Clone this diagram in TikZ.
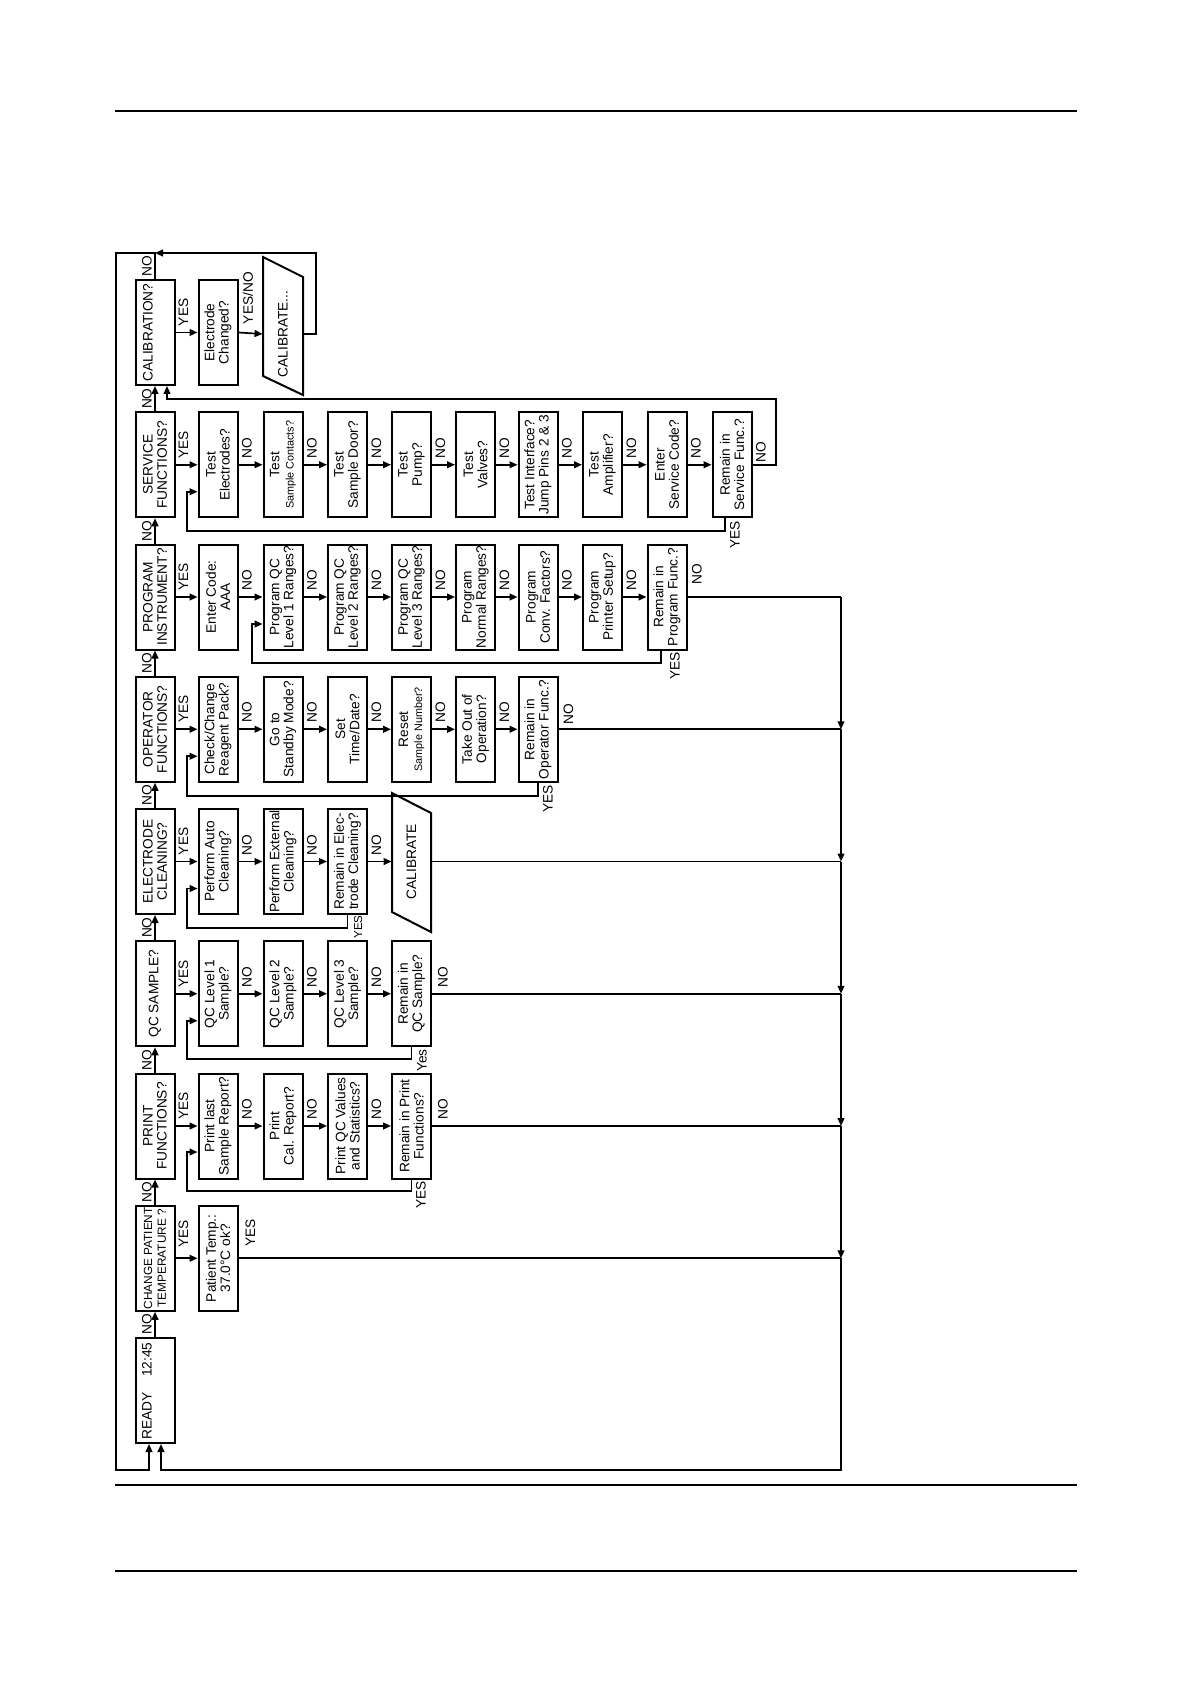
\documentclass[tikz,border=0pt]{standalone}
\usepackage{fontspec}
\setmainfont{Liberation Sans}
\usetikzlibrary{arrows.meta,calc}
\newcommand\nfs{\fontsize{6.85}{7.1}\selectfont}
\newcommand\sfsm{\fontsize{5.4}{7.1}\selectfont}
\newcommand\hfsm{\fontsize{5.9}{6.9}\selectfont}
\newcommand\yfsm{\fontsize{5.8}{6.5}\selectfont}
\begin{document}
\begin{tikzpicture}[x=0.5pt,y=-0.5pt,
  box/.style={draw,line width=1pt,rotate=90,minimum width=52.5pt,minimum height=19.5pt,inner sep=0pt,align=center,font=\nfs},
  lab/.style={rotate=90,inner sep=0pt,font=\nfs},
  conn/.style={line width=0.85pt},
  arr/.style={conn,-{Triangle[length=4pt,width=3.4pt]}},
  pagerule/.style={line width=0.6pt}]
\useasboundingbox (0,0) rectangle (1190,1684);
\fill[white] (0,0) rectangle (1190,1684);
% page rules
\draw[pagerule] (115,111) -- (1077,111);
\draw[pagerule] (115,1485) -- (1077,1485);
\draw[pagerule] (115,1571) -- (1077,1571);
% frame coordinates
\coordinate (jtop) at (155,253);
\coordinate (oTL) at (116,253);
\coordinate (oBL) at (116,1470);
\coordinate (mTR) at (841,597);
\coordinate (j3) at (841,729.25);
\coordinate (j4) at (841,861.5);
\coordinate (j5) at (841,993.75);
\coordinate (j6) at (841,1126);
\coordinate (j7) at (841,1258.25);
\coordinate (mBR) at (841,1470);
% header column
\node[box] (h0) at (155,332.5) {CALIBRATION?\\\mbox{}};
\node[box] (h1) at (155,464.75) {SERVICE\\FUNCTIONS?};
\node[box] (h2) at (155,597) {PROGRAM\\INSTRUMENT?};
\node[box] (h3) at (155,729.25) {OPERATOR\\FUNCTIONS?};
\node[box] (h4) at (155,861.5) {ELECTRODE\\CLEANING?};
\node[box] (h5) at (155,993.75) {QC SAMPLE?};
\node[box] (h6) at (155,1126) {PRINT\\FUNCTIONS?};
\node[box,font=\hfsm] (h7) at (155,1258.25) {CHANGE PATIENT\\TEMPERATURE ?};
\node[box] (h8) at (155,1390.5) {};
\node[lab,anchor=west] (rdy) at (147,1440) {READY};
\node[lab,anchor=east] (rtm) at (147,1342) {12:45};
% calibration row
\node[box] (a1) at (218,332.5) {Electrode\\Changed?};
\node[lab,minimum height=20pt,minimum width=40pt] (a2) at (283,334) {CALIBRATE...};
\draw[line width=1pt] ($(a2.center)+(-20,-77)$) -- ($(a2.center)+(-20,42)$) -- ($(a2.center)+(20,61)$) -- ($(a2.center)+(20,-57)$) -- cycle;
% service row
\node[box] (s1) at (218,464.75) {Test\\Electrodes?};
\node[box] (s2) at (283,464.75) {Test\\{\sfsm Sample Contacts?}};
\node[box] (s3) at (347.5,464.75) {Test\\Sample Door?};
\node[box] (s4) at (411.5,464.75) {Test\\Pump?};
\node[box] (s5) at (475.5,464.75) {Test\\Valves?};
\node[box] (s6) at (538,464.75) {Test Interface?\\Jump Pins 2 \& 3};
\node[box] (s7) at (602.5,464.75) {Test\\Amplifier?};
\node[box] (s8) at (667,464.75) {Enter\\Service Code?};
\node[box] (s9) at (732,464.75) {Remain in\\Service Func.?};
% program row
\node[box] (p1) at (218,597) {Enter Code:\\AAA};
\node[box] (p2) at (283,597) {Program QC\\Level 1 Ranges?};
\node[box] (p3) at (347.5,597) {Program QC\\Level 2 Ranges?};
\node[box] (p4) at (411.5,597) {Program QC\\Level 3 Ranges?};
\node[box] (p5) at (475.5,597) {Program\\Normal Ranges?};
\node[box] (p6) at (538,597) {Program\\Conv. Factors?};
\node[box] (p7) at (602.5,597) {Program\\Printer Setup?};
\node[box] (p8) at (667,597) {Remain in\\Program Func.?};
% operator row
\node[box] (o1) at (218,729.25) {Check/Change\\Reagent Pack?};
\node[box] (o2) at (283,729.25) {Go to\\Standby Mode?};
\node[box] (o3) at (347.5,729.25) {Set\\Time/Date?};
\node[box] (o4) at (411.5,729.25) {Reset\\{\sfsm Sample Number?}};
\node[box] (o5) at (475.5,729.25) {Take Out of\\Operation?};
\node[box] (o6) at (538,729.25) {Remain in\\Operator Func.?};
% electrode row
\node[box] (e1) at (218,861.5) {Perform Auto\\Cleaning?};
\node[box] (e2) at (283,861.5) {Perform External\\Cleaning?};
\node[box] (e3) at (347.5,861.5) {Remain in Elec-\\trode Cleaning?};
\node[lab,minimum height=19.5pt,minimum width=40pt] (eC) at (411.5,861.5) {CALIBRATE};
\draw[line width=1pt] ($(eC.center)+(-19.5,-68.5)$) -- ($(eC.center)+(-19.5,50.5)$) -- ($(eC.center)+(19.5,70.5)$) -- ($(eC.center)+(19.5,-48.5)$) -- cycle;
% QC row
\node[box] (q1) at (218,993.75) {QC Level 1\\Sample?};
\node[box] (q2) at (283,993.75) {QC Level 2\\Sample?};
\node[box] (q3) at (347.5,993.75) {QC Level 3\\Sample?};
\node[box] (q4) at (411.5,993.75) {Remain in\\QC Sample?};
% print row
\node[box] (r1) at (218,1126) {Print last\\Sample Report?};
\node[box] (r2) at (283,1126) {Print\\Cal. Report?};
\node[box] (r3) at (347.5,1126) {Print QC Values\\and Statistics?};
\node[box] (r4) at (411.5,1126) {Remain in Print\\Functions?};
% patient row
\node[box] (t1) at (218,1258.25) {Patient Temp.:\\37.0°C ok?};
% header chain
\foreach \a/\b in {h8/h7,h7/h6,h6/h5,h5/h4,h4/h3,h3/h2,h2/h1,h1/h0}{
  \draw[arr] (\a.east) -- (\b.west);
  \node[lab] at ($(\a.east)!0.5!(\b.west)+(-8,0)$) {NO};
}
\node[lab] at ($(h0.east)!0.5!(jtop)+(-8,0)$) {NO};
% row chains
\foreach \a/\b in {h0/a1,h1/s1,h2/p1,h3/o1,h4/e1,h5/q1,h6/r1}{
  \draw[arr] (\a.south) -- (\b.north);
  \node[lab,anchor=west] at ($(\a.south)+(8,-6)$) {YES};
}
\draw[arr] (h7.south) -- (t1.north);
\node[lab,anchor=west] at ($(h7.south)+(8,-10)$) {YES};
\draw[arr] (a1.south) -- (a2.north);
\node[lab,anchor=west] at ($(a1.south)+(9.5,-8)$) {YES/NO};
\foreach \a/\b in {s1/s2,s2/s3,s3/s4,s4/s5,s5/s6,s6/s7,s7/s8,s8/s9,
  p1/p2,p2/p3,p3/p4,p4/p5,p5/p6,p6/p7,p7/p8,
  o1/o2,o2/o3,o3/o4,o4/o5,o5/o6,
  e1/e2,e2/e3,e3/eC,
  q1/q2,q2/q3,q3/q4,
  r1/r2,r2/r3,r3/r4}{
  \draw[arr] (\a.south) -- (\b.north);
  \node[lab,anchor=west] at ($(\a.south)+(8.5,-6)$) {NO};
}
% YES loops
\draw[arr] ($(s9.west)+(-7,0)$) |- (187,531) |- ($(s1.north)+(0,27)$);
\node[lab,anchor=east] at (735,521) {YES};
\draw[arr] ($(p8.west)+(-6,0)$) |- (252,663) |- ($(p2.north)+(0,27)$);
\node[lab,anchor=east] at (675,652) {YES};
\draw[arr] (o6.west) |- (187,796) |- ($(o1.north)+(0,27)$);
\node[lab,anchor=east] at (548,785) {YES};
\draw[arr] (e3.west) |- (187,928) |- ($(e1.north)+(0,27)$);
\node[lab,anchor=east,font=\yfsm] at (358,915) {YES};
\draw[arr] (q4.west) |- (187,1059) |- ($(q1.north)+(0,27)$);
\node[lab,anchor=east] at (422,1049) {Yes};
\draw[arr] (r4.west) |- (187,1191) |- ($(r1.north)+(0,26)$);
\node[lab,anchor=east] at (421,1181) {YES};
% service exit to calibration
\draw[arr] (s9.south) -- (776,464.75) |- (167,399) -- ($(h0.west)+(12,0)$);
\node[lab,anchor=west] at ($(s9.south)+(8.5,-2)$) {NO};
% calibrate return and outer frame
\draw[arr] (a2.south) -- (316,334) |- (jtop);
\draw[arr] (h0.east) -- (jtop) -- (oTL) -- (oBL) -| ($(h8.west)+(-6,0)$);
% main return line
\draw[conn] (p8.south) -- (mTR);
\node[lab,anchor=west] at ($(p8.south)+(9.5,-12)$) {NO};
\draw[arr] (mTR) -- (j3);
\draw[arr] (j3) -- (j4);
\draw[arr] (j4) -- (j5);
\draw[arr] (j5) -- (j6);
\draw[arr] (j6) -- (j7);
\draw[arr] (j7) -- (mBR) -| ($(h8.west)+(6,0)$);
\draw[conn] (o6.south) -- (j3);
\node[lab,anchor=west] at ($(o6.south)+(10,-4)$) {NO};
\draw[conn] (eC.south) -- (j4);
\draw[conn] (q4.south) -- (j5);
\node[lab,anchor=west] at ($(q4.south)+(11,-6)$) {NO};
\draw[conn] (r4.south) -- (j6);
\node[lab,anchor=west] at ($(r4.south)+(11,-6)$) {NO};
\draw[conn] (t1.south) -- (j7);
\node[lab,anchor=west] at ($(t1.south)+(12,-11)$) {YES};
\end{tikzpicture}
\end{document}
